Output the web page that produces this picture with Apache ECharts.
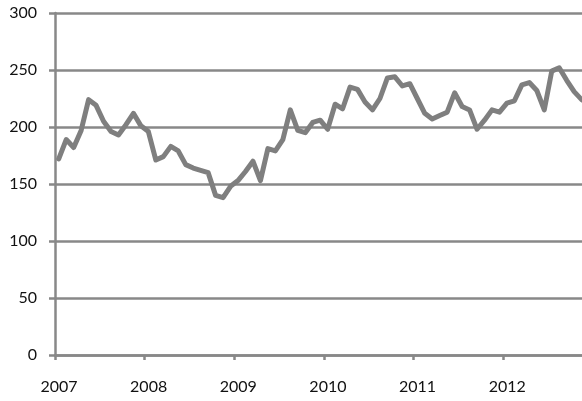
<!DOCTYPE html>
<html>
<head>
<meta charset="utf-8">
<script src="https://cdn.jsdelivr.net/npm/echarts@6/dist/echarts.min.js"></script>
<style>
html,body{margin:0;padding:0;background:#fff;overflow:hidden;}
#chart{width:582px;height:401px;}
</style>
</head>
<body>
<div id="chart"></div>
<script>
// Monthly values, Jan 2007 – Dec 2012
const years = [2007, 2008, 2009, 2010, 2011, 2012];
const values = [
  172, 189, 182, 197, 224, 219, 205, 196, 193, 202, 212, 201,
  196, 171, 174, 183, 179, 167, 164, 162, 160, 140, 138, 148,
  153, 161, 170, 153, 181, 179, 189, 215, 197, 195, 204, 206,
  198, 220, 216, 235, 233, 222, 215, 225, 243, 244, 236, 238,
  225, 212, 207, 210, 213, 230, 218, 215, 198, 206, 215, 213,
  221, 223, 237, 239, 232, 215, 249, 252, 241, 231, 224, 220
];
const yTicks = [0, 50, 100, 150, 200, 250, 300];

// month index (mid-month) -> value
const seriesData = values.map((v, i) => [i + 0.5, v]);
const yearTicks = years.map((y, i) => i * 12);

const gridColor = '#888888';
const chart = echarts.init(document.getElementById('chart'));
chart.setOption({
  animation: false,
  grid: { left: 55, top: 13, bottom: 46, right: 0, containLabel: false },
  xAxis: {
    type: 'value',
    min: 0,
    max: 70.55,
    interval: 12,
    axisLine: { show: true, onZero: false, lineStyle: { color: gridColor, width: 2.5 } },
    axisTick: { show: true, length: 5, customValues: yearTicks, lineStyle: { color: gridColor, width: 2.5 } },
    axisLabel: {
      customValues: yearTicks,
      margin: 24,
      color: '#111',
      fontFamily: 'Lato',
      fontSize: 16,
      padding: [0, 0, 0, 8],
      formatter: v => String(years[0] + Math.round(v / 12))
    },
    splitLine: { show: false }
  },
  yAxis: {
    type: 'value',
    min: yTicks[0],
    max: yTicks[yTicks.length - 1],
    interval: 50,
    axisLine: { show: true, lineStyle: { color: gridColor, width: 2.5 } },
    axisTick: { show: true, length: 6, lineStyle: { color: gridColor, width: 2.5 } },
    axisLabel: { margin: 18, color: '#111', fontFamily: 'Lato', fontSize: 16, padding: [5, 0, 0, 0] },
    splitLine: { show: true, lineStyle: { color: gridColor, width: 2.5 } }
  },
  series: [{
    type: 'line',
    data: seriesData,
    symbol: 'none',
    clip: true,
    lineStyle: { color: '#7f7f7f', width: 5, join: 'round', cap: 'round' }
  }]
});
</script>
</body>
</html>
